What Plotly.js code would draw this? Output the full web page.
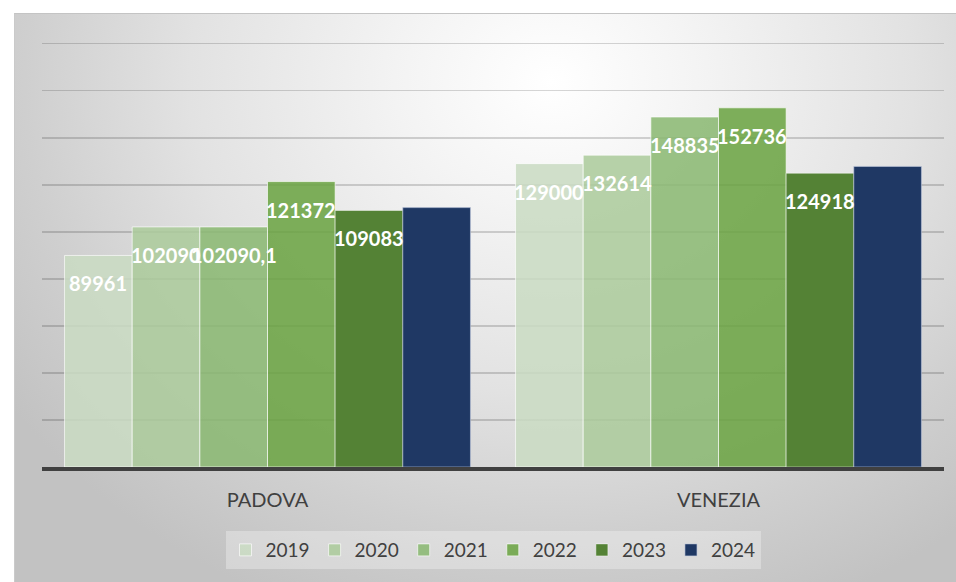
<!DOCTYPE html>
<html>
<head>
<meta charset="utf-8">
<script src="https://cdn.plot.ly/plotly-3.0.1.min.js"></script>
<style>
  html, body { margin: 0; padding: 0; background: #ffffff; }
  #bg {
    position: absolute; left: 14px; top: 13px; width: 942px; height: 569px;
    box-sizing: border-box;
    border-top: 1px solid #c4c4c4; border-left: 1px solid #cacaca;
    background: radial-gradient(ellipse 70% 100% at 57% 12%, #ffffff 0%, #f4f4f4 22%, #e2e2e2 55%, #cfcfcf 80%, #c2c2c2 100%);
  }
  #chart { position: absolute; left: 0; top: 0; width: 956px; height: 582px; }
</style>
</head>
<body>
<div id="bg"></div>
<div id="chart"></div>
<script>
// ---- data ----
const categories = ["PADOVA", "VENEZIA"];
const years = ["2019", "2020", "2021", "2022", "2023", "2024"];
const v2019 = [89961, 129000];
const v2020 = [102090, 132614];
const v2021 = [102090.1, 148835];
const v2022 = [121372, 152736];
const v2023 = [109083, 124918];
const v2024 = [110300, 127800];
const lab2019 = ["89961", "129000"];
const lab2020 = ["102090", "132614"];
const lab2021 = ["102090,1", "148835"];
const lab2022 = ["121372", "152736"];
const lab2023 = ["109083", "124918"];
const lab2024 = ["", ""];

// ---- styles ----
const seriesValues = [v2019, v2020, v2021, v2022, v2023, v2024];
const seriesLabels = [lab2019, lab2020, lab2021, lab2022, lab2023, lab2024];
const colors = [
  "rgba(202,219,194,0.86)",
  "rgba(171,203,155,0.86)",
  "rgba(137,184,113,0.86)",
  "rgba(106,163,65,0.86)",
  "#548235",
  "#1f3864"
];
const lineColors = [
  "rgba(255,255,255,0.65)", "rgba(255,255,255,0.65)", "rgba(255,255,255,0.65)",
  "rgba(255,255,255,0.65)", "rgba(255,255,255,0.45)", "rgba(190,200,220,0.6)"
];
const bargap = 0.1;
const FONT = "Lato, 'Open Sans', sans-serif";

const traces = years.map((yr, i) => ({
  type: "bar",
  name: yr,
  x: categories,
  y: seriesValues[i],
  marker: { color: colors[i], line: { color: lineColors[i], width: 1 } },
  hoverinfo: "x+y+name"
}));

const n = years.length;
const annotations = [];
seriesLabels.forEach((labs, i) => {
  labs.forEach((t, j) => {
    if (!t) return;
    annotations.push({
      xref: "x", yref: "y",
      x: j + (i - (n - 1) / 2) * (1 - bargap) / n,
      y: seriesValues[i][j],
      text: "<b>" + t + "</b>",
      showarrow: false,
      xanchor: "center", yanchor: "middle",
      yshift: -28,
      font: { family: FONT, size: 20, color: "#ffffff" }
    });
  });
});

const layout = {
  width: 956, height: 582,
  margin: { l: 42, r: 12, t: 39, b: 115, pad: 0 },
  paper_bgcolor: "rgba(0,0,0,0)",
  plot_bgcolor: "rgba(0,0,0,0)",
  barmode: "group",
  bargap: bargap,
  bargroupgap: 0,
  showlegend: true,
  legend: {
    orientation: "h",
    x: 0.5, xanchor: "center",
    y: -0.194, yanchor: "middle",
    bgcolor: "rgba(255,255,255,0.3)",
    borderwidth: 0,
    font: { family: FONT, size: 19, color: "#404040" },
    traceorder: "normal",
    itemclick: false
  },
  xaxis: {
    type: "category",
    showline: true, linecolor: "#404040", linewidth: 4,
    showgrid: false, zeroline: false, ticks: "",
    ticklabelstandoff: 12,
    tickfont: { family: FONT, size: 20, color: "#404040" }
  },
  yaxis: {
    range: [0, 182000],
    tick0: 0, dtick: 20000,
    showticklabels: false,
    showgrid: true, gridcolor: "rgba(0,0,0,0.16)", gridwidth: 1.5,
    zeroline: false, showline: false, ticks: ""
  },
  annotations: annotations,
  font: { family: FONT }
};

Plotly.newPlot("chart", traces, layout, { displayModeBar: false, staticPlot: true });
</script>
</body>
</html>
